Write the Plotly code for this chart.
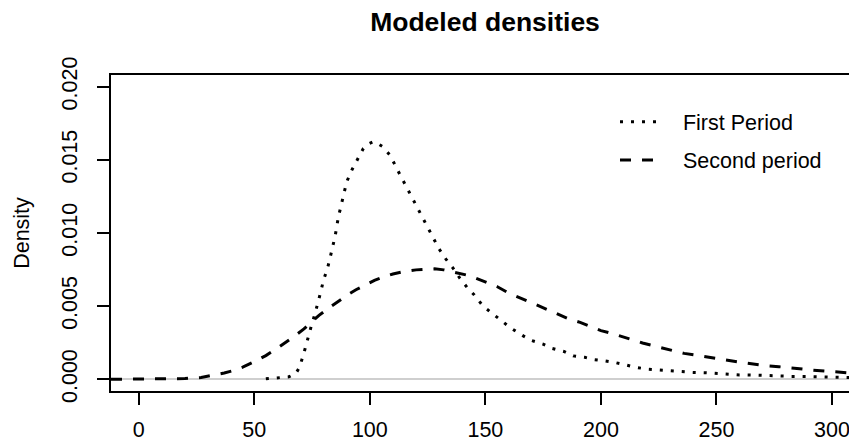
import plotly.graph_objects as go

# ---- data ----
first_x = [55, 60, 65, 68, 69.5, 71.3, 73.4, 74.6, 76.3, 77.8, 78.8, 79.9, 81.7, 82.8, 84, 85,
           86.4, 87.9, 90, 92.2, 94.4, 97.2, 99.5, 101.5, 103.5, 105.6, 108.8, 110, 113, 116,
           118, 120, 123, 125.5, 128, 130, 133, 136, 139,
           142, 145, 149, 153, 157, 161, 166, 170, 175, 179, 184, 188, 193, 197, 202, 206,
           211, 215, 220, 225, 230, 235, 240, 245, 250, 255, 260, 268, 275, 282, 290, 298,
           305, 312]
first_y = [0.00003, 0.00008, 0.00017, 0.00040, 0.00080, 0.00170, 0.00280, 0.00360, 0.00450,
           0.00530, 0.00600, 0.00675, 0.00760, 0.00830, 0.00910, 0.00980, 0.01110, 0.01215,
           0.01350, 0.01430, 0.01500, 0.01578, 0.01610, 0.01624, 0.01610, 0.01590, 0.01530,
           0.01490, 0.01400, 0.01310,
           0.01250, 0.01180, 0.01090, 0.01020, 0.00940, 0.00890, 0.00820, 0.00760, 0.00690,
           0.00630, 0.00580, 0.00500, 0.00450, 0.00400, 0.00350, 0.00300, 0.00265, 0.00240,
           0.00210, 0.00190, 0.00160, 0.00150, 0.00135, 0.00125, 0.00115, 0.00097, 0.00082,
           0.00070, 0.00063, 0.00057, 0.00050, 0.00047, 0.00045, 0.00040, 0.00035, 0.00030,
           0.00028, 0.00023, 0.00020, 0.00019, 0.00017, 0.00011, 0.00010]

second_x = [-12, 0, 10, 20, 27, 32, 37, 41, 45, 50, 55, 60, 64, 68, 71.5, 75, 78, 82, 86, 90,
            94, 98, 102, 106, 110, 115, 120, 125, 128, 132, 137, 142, 146, 150, 155, 160, 164,
            168, 172, 177, 182, 186, 191, 196, 200, 205, 210, 214, 218, 223, 227, 232, 236,
            241, 245, 250, 254, 259, 263, 268, 272, 277, 282, 286, 291, 295, 300, 305, 310, 315]
second_y = [0.0, 0.0, 0.00001, 0.00005, 0.00012, 0.00025, 0.00043, 0.00060, 0.00083, 0.00120,
            0.00162, 0.00213, 0.00255, 0.00302, 0.00345, 0.00395, 0.00437, 0.00485, 0.00530,
            0.00573, 0.00612, 0.00645, 0.00676, 0.00700, 0.00720, 0.00737, 0.00748, 0.00753,
            0.00755, 0.00748, 0.00732, 0.00712, 0.00690, 0.00665, 0.00634, 0.00590, 0.00565,
            0.00538, 0.00510, 0.00475, 0.00440, 0.00413, 0.00389, 0.00360, 0.00333, 0.00312,
            0.00290, 0.00268, 0.00248, 0.00227, 0.00211, 0.00193, 0.00177, 0.00165, 0.00154,
            0.00141, 0.00131, 0.00120, 0.00111, 0.00100, 0.00092, 0.00086, 0.00081, 0.00072,
            0.00063, 0.00058, 0.00053, 0.00046, 0.00040, 0.00035]

series_names = ["First Period", "Second period"]
x_ticks = [0, 50, 100, 150, 200, 250, 300]
y_ticks = [0.000, 0.005, 0.010, 0.015, 0.020]
y_tick_labels = ["0.000", "0.005", "0.010", "0.015", "0.020"]

FONT = "Liberation Sans, Arial, sans-serif"
FS = 21.5
PAD = "\u00a0\u00a0\u00a0"  # gap between legend sample and its text

fig = go.Figure()
fig.add_trace(go.Scatter(x=first_x, y=first_y, mode="lines", name=PAD + series_names[0],
                         line=dict(color="black", width=3, dash="3px,8px"),
                         legend="legend"))
fig.add_trace(go.Scatter(x=second_x, y=second_y, mode="lines", name=PAD + series_names[1],
                         line=dict(color="black", width=3, dash="11px,11px"),
                         legend="legend2"))

# the page body adds an 8px offset; the figure fills the rest of the 857x444 window
W, H = 849, 436
L, R, T, B = 103, 0, 67, 53
plot_w = W - L - R
px_per_unit = 2.311
x0 = -12
x1 = x0 + plot_w / px_per_unit


def ly(ypx):
    return (H - B - ypx) / (H - T - B)


def lx(xpx):
    return (xpx - L) / plot_w


legend_common = dict(font=dict(family=FONT, size=FS, color="black"),
                     bgcolor="rgba(0,0,0,0)", borderwidth=0, itemwidth=40,
                     xanchor="left", yanchor="middle", xref="paper", yref="paper")

fig.update_layout(
    width=W, height=H,
    margin=dict(l=L, r=R, t=T, b=B, pad=0),
    paper_bgcolor="white", plot_bgcolor="white",
    font=dict(family=FONT, size=FS, color="black"),
    title=dict(text="<b>Modeled densities</b>", font=dict(family=FONT, size=26.5, color="black"),
               x=477 / W, xref="container", xanchor="center",
               y=1 - 14 / H, yref="container", yanchor="middle"),
    showlegend=True,
    legend=dict(x=lx(607), y=ly(113.7), **legend_common),
    legend2=dict(x=lx(607), y=ly(152), **legend_common),
    xaxis=dict(range=[x0, x1], tickmode="array", tickvals=x_ticks,
               ticktext=[str(v) for v in x_ticks],
               showgrid=False, zeroline=False, showline=True, mirror=True,
               linecolor="black", linewidth=2, ticks="outside", ticklen=12,
               tickwidth=2, tickcolor="black", ticklabelstandoff=6,
               tickfont=dict(family=FONT, size=FS, color="black")),
    yaxis=dict(range=[-0.0008, 0.0208], tickmode="array", tickvals=y_ticks,
               ticktext=y_tick_labels, tickangle=-90,
               showgrid=False, zeroline=True, zerolinecolor="#cfcfcf", zerolinewidth=2,
               showline=True, mirror=False, linecolor="black", linewidth=2,
               ticks="outside", ticklen=12, tickwidth=2, tickcolor="black",
               ticklabelstandoff=11,
               tickfont=dict(family=FONT, size=FS, color="black"),
               title=dict(text="Density", font=dict(family=FONT, size=FS, color="black"),
                          standoff=23)),
)

fig.write_html("out.html")
